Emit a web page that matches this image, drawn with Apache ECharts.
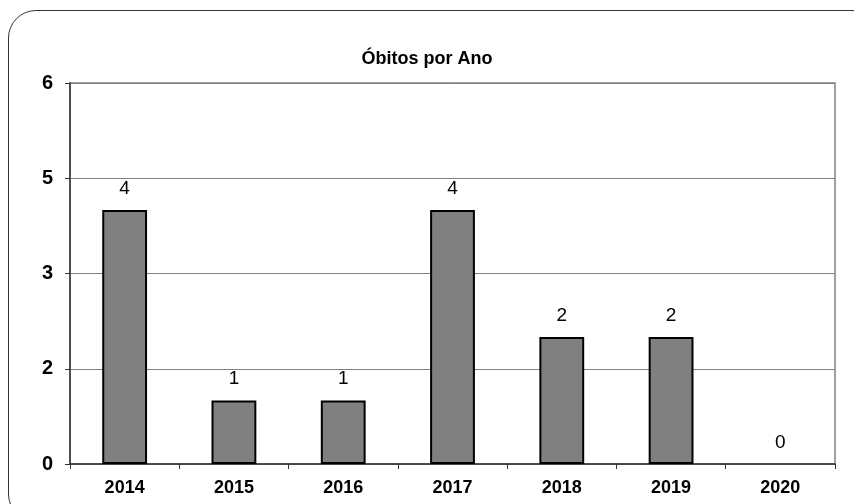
<!DOCTYPE html>
<html>
    <head>
        <meta charset="utf-8">
        <title>Óbitos por Ano</title>
        <script src="https://cdn.jsdelivr.net/npm/echarts@6/dist/echarts.min.js"></script>
        <style>
            html, body { margin:0; padding:0; overflow:hidden; background:#fff; }
            #frame { position:absolute; left:8px; top:10px; width:870px; height:510px;
                     border:1px solid #333; border-radius:28px; }
            #main { position:absolute; left:0; top:0; width:854px; height:504px; }
        </style>
    </head>
    <body>
        <div id="frame"></div>
        <div id="main"></div>
        <script type="text/javascript">
            var anos = ['2014', '2015', '2016', '2017', '2018', '2019', '2020'];
            var obitos = [4, 1, 1, 4, 2, 2, 0];
            var yMin = 0, yMax = 6, yStep = 1.5;

            // barras com valor 0 sem contorno
            var barData = obitos.map(function (v) {
                return v === 0 ? { value: v, itemStyle: { borderWidth: 0 } } : v;
            });

            var myChart = echarts.init(document.getElementById('main'));
            var option = {
                animation: false,
                title: {
                    text: 'Óbitos por Ano',
                    left: 'center',
                    top: 45,
                    textStyle: { fontFamily: 'Liberation Sans, Arial', fontSize: 18, fontWeight: 'bold', color: '#000' }
                },
                grid: {
                    left: 70, top: 83, width: 765, height: 381,
                    show: true, borderColor: '#808080', borderWidth: 1.5
                },
                xAxis: {
                    type: 'category',
                    data: anos,
                    axisLine: { lineStyle: { color: '#333', width: 1.5 } },
                    axisTick: { show: true, length: 5, lineStyle: { color: '#333' } },
                    axisLabel: { margin: 15, color: '#000', fontFamily: 'Liberation Sans, Arial', fontSize: 18, fontWeight: 'bold' }
                },
                yAxis: {
                    type: 'value',
                    min: yMin, max: yMax, interval: yStep,
                    axisLine: { show: true, lineStyle: { color: '#333', width: 1.5 } },
                    axisTick: { show: true, length: 5, lineStyle: { color: '#333' } },
                    splitLine: { lineStyle: { color: '#808080', width: 1 } },
                    axisLabel: {
                        margin: 17, color: '#000', fontFamily: 'Liberation Sans, Arial', fontSize: 20, fontWeight: 'bold',
                        formatter: function (v) { return Math.round(v); }
                    }
                },
                series: [{
                    type: 'bar',
                    data: barData,
                    barWidth: '41%',
                    itemStyle: { color: '#808080', borderColor: '#000', borderWidth: 2 },
                    label: {
                        show: true, position: 'top', distance: 12,
                        color: '#000', fontFamily: 'Liberation Sans, Arial', fontSize: 19
                    }
                }]
            };
            myChart.setOption(option);
        </script>
    </body>
</html>
